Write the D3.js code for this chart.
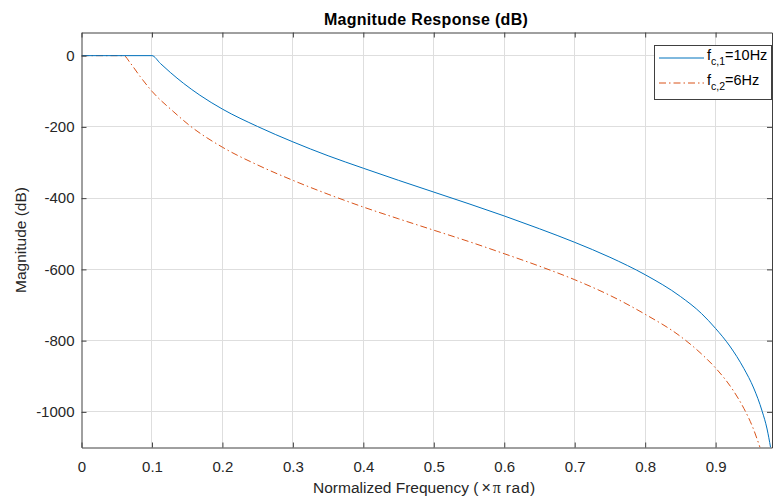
<!DOCTYPE html>
<html>
<head>
<meta charset="utf-8">
<script src="https://cdn.jsdelivr.net/npm/d3@7"></script>
<style>
  body { margin: 0; background: #fff; }
  svg { display: block; font-family: "Liberation Sans", Arial, sans-serif; }
</style>
</head>
<body>
<svg id="chart" width="775" height="498"></svg>
<script>
// ---- data ----
const freq1 = [0, 0.1, 0.112, 0.126, 0.145, 0.168, 0.2, 0.25, 0.3, 0.35, 0.4, 0.45, 0.5, 0.55, 0.6, 0.65, 0.7, 0.75, 0.8, 0.85, 0.88, 0.9, 0.92, 0.94, 0.954, 0.966, 0.973, 0.978];
const mag1  = [0, 0, -22, -47, -78, -111, -150, -199, -242, -281, -316, -350, -383, -416, -450, -486, -524, -566, -615, -676, -724, -766, -815, -878, -933, -998, -1048, -1100];
const freq2 = [0, 0.06, 0.069, 0.083, 0.1, 0.131, 0.154, 0.2, 0.25, 0.3, 0.35, 0.4, 0.45, 0.5, 0.55, 0.6, 0.65, 0.7, 0.75, 0.8, 0.85, 0.883, 0.9, 0.925, 0.94, 0.952, 0.963];
const mag2  = [0, 0, -20, -58, -100, -158, -197, -257, -307, -350, -389, -425, -458, -490, -522, -556, -591, -629, -673, -726, -788, -843, -877, -940, -990, -1040, -1100];
const xTicks = [0, 0.1, 0.2, 0.3, 0.4, 0.5, 0.6, 0.7, 0.8, 0.9];
const yTicks = [-1000, -800, -600, -400, -200, 0];
const seriesNames = ["10Hz", "6Hz"];
const seriesSubs = ["c,1", "c,2"];

// ---- layout ----
const L = 81.5, R = 772, T = 32.5, B = 447.5;
const svg = d3.select("#chart");
const x = d3.scaleLinear().domain([0, 0.98]).range([L, R]);
const y = d3.scaleLinear().domain([-1100, 65]).range([B, T]);
const axisColor = "#404040";
const gridColor = "#dedede";

// grid
const grid = svg.append("g");
grid.selectAll(".gx").data(xTicks.filter(d => d > 0)).enter().append("line")
  .attr("x1", d => x(d)).attr("x2", d => x(d)).attr("y1", T).attr("y2", B)
  .attr("stroke", gridColor).attr("stroke-width", 1).attr("shape-rendering", "crispEdges");
grid.selectAll(".gy").data(yTicks).enter().append("line")
  .attr("x1", L).attr("x2", R).attr("y1", d => y(d)).attr("y2", d => y(d))
  .attr("stroke", gridColor).attr("stroke-width", 1).attr("shape-rendering", "crispEdges");

// clip
svg.append("clipPath").attr("id", "clip").append("rect")
  .attr("x", L).attr("y", T).attr("width", R - L).attr("height", B - T);

const line = d3.line().x(d => x(d[0])).y(d => y(d[1])).curve(d3.curveMonotoneX);
const s1 = freq1.map((f, i) => [f, mag1[i]]);
const s2 = freq2.map((f, i) => [f, mag2[i]]);
const colors = ["#0072BD", "#D95319"];
const dashes = [null, "7,3,1.5,3"];

const plot = svg.append("g").attr("clip-path", "url(#clip)");
plot.append("path").datum(s2).attr("d", line).attr("fill", "none")
  .attr("stroke", colors[1]).attr("stroke-width", 1).attr("stroke-dasharray", dashes[1]);
plot.append("path").datum(s1).attr("d", line).attr("fill", "none")
  .attr("stroke", colors[0]).attr("stroke-width", 1);

// axes (MATLAB-style: inward ticks, box)
const fmt = d => d === 0 ? "0" : String(d);
const xAxisB = d3.axisBottom(x).tickValues(xTicks).tickSizeInner(-5).tickSizeOuter(0).tickPadding(14).tickFormat(fmt);
const xAxisT = d3.axisTop(x).tickValues(xTicks).tickSizeInner(-5).tickSizeOuter(0).tickFormat("");
const yAxisL = d3.axisLeft(y).tickValues(yTicks).tickSizeInner(-5).tickSizeOuter(0).tickPadding(7).tickFormat(fmt);
const yAxisR = d3.axisRight(y).tickValues(yTicks).tickSizeInner(-5).tickSizeOuter(0).tickFormat("");

function style(g) {
  g.selectAll("path").attr("stroke", axisColor).attr("stroke-width", 1);
  g.selectAll("line").attr("stroke", axisColor).attr("stroke-width", 1);
  g.selectAll("text").attr("fill", "#262626").style("font-size", "15px")
    .style("font-family", "'Liberation Sans', Arial, sans-serif");
}
svg.append("g").attr("transform", `translate(0,${B})`).call(xAxisB).call(style);
svg.append("g").attr("transform", `translate(0,${T})`).call(xAxisT).call(style);
svg.append("g").attr("transform", `translate(${L},0)`).call(yAxisL).call(style);
svg.append("g").attr("transform", `translate(${R},0)`).call(yAxisR).call(style);

// titles
svg.append("text").attr("x", 426).attr("y", 25).attr("text-anchor", "middle")
  .style("font-size", "16px").style("font-weight", "bold").style("letter-spacing", "0.3px").attr("fill", "#000")
  .text("Magnitude Response (dB)");
const xl = svg.append("text").attr("x", 313).attr("y", 493)
  .style("font-size", "15.5px").attr("fill", "#262626");
xl.append("tspan").text("Normalized Frequency (");
xl.append("tspan").attr("dx", 3).style("font-size", "16px").text("\u00D7");
xl.append("tspan").attr("dx", 2).style("font-size", "16px").style("font-family", "'Liberation Serif', serif").text("\u03C0");
xl.append("tspan").style("letter-spacing", "0.6px").text(" rad)");
svg.append("text").attr("transform", `translate(26,${(T + B) / 2}) rotate(-90)`)
  .attr("text-anchor", "middle").style("font-size", "15.5px").attr("fill", "#262626")
  .text("Magnitude (dB)");

// legend
const lg = svg.append("g");
lg.append("rect").attr("x", 654.5).attr("y", 45.5).attr("width", 117).attr("height", 54)
  .attr("fill", "#fff").attr("stroke", axisColor).attr("stroke-width", 1);
[0, 1].forEach(i => {
  const yy = 58 + i * 25;
  lg.append("line").attr("x1", 659).attr("x2", 704).attr("y1", yy).attr("y2", yy)
    .attr("stroke", colors[i]).attr("stroke-width", 1)
    .attr("stroke-dasharray", dashes[i]);
  const t = lg.append("text").attr("x", 707).attr("y", yy + 2).style("font-size", "14.5px").attr("fill", "#000");
  t.append("tspan").text("f");
  t.append("tspan").attr("dy", 5).style("font-size", "10.5px").text(seriesSubs[i]);
  t.append("tspan").attr("dy", -5).text("=" + seriesNames[i]);
});
</script>
</body>
</html>
